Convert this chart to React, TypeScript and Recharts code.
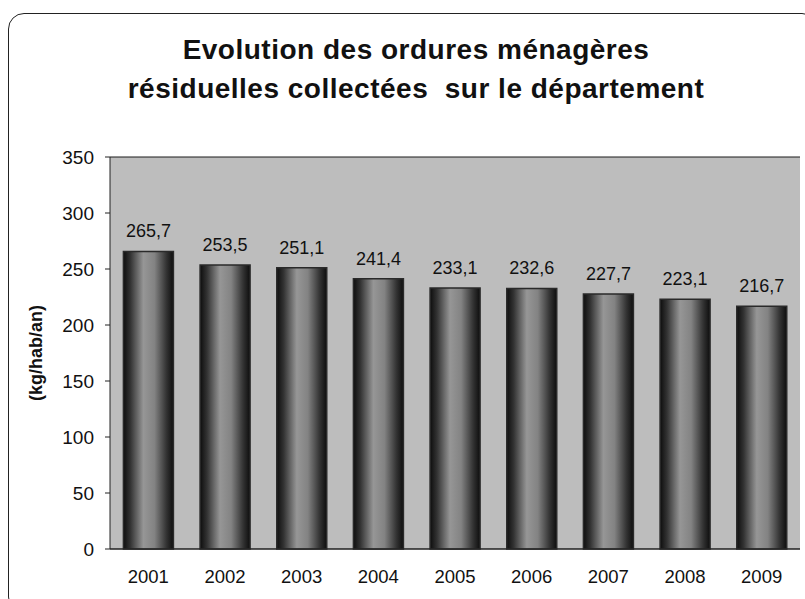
import React from 'react';
import { BarChart, Bar, XAxis, YAxis, CartesianGrid, LabelList } from 'recharts';

const years = ['2001', '2002', '2003', '2004', '2005', '2006', '2007', '2008', '2009'];
const tonnages = [265.7, 253.5, 251.1, 241.4, 233.1, 232.6, 227.7, 223.1, 216.7];
const yTicks = [0, 50, 100, 150, 200, 250, 300, 350];

const data = years.map((year, i) => ({ year, value: tonnages[i] }));

const font = '"Liberation Sans", Arial, sans-serif';

const fmt = (v: number) => v.toFixed(1).replace('.', ',');

export default function App() {
    return (
        <div style={{ position: 'absolute', left: 0, top: 0, width: 805, height: 599, background: '#fff', overflow: 'hidden', fontFamily: font }}>
            {/* rounded frame of the scanned chart */}
            <div
                style={{
                    position: 'absolute',
                    left: 8,
                    top: 13,
                    width: 810,
                    height: 600,
                    border: '1.5px solid #222',
                    borderRadius: 16,
                    boxSizing: 'border-box'
                }}
            />
            <div
                style={{
                    position: 'absolute',
                    left: 0,
                    top: 30,
                    width: 832,
                    textAlign: 'center',
                    fontSize: 28,
                    fontWeight: 'bold',
                    letterSpacing: 0.5,
                    lineHeight: '39px',
                    color: '#111'
                }}
            >
                Evolution des ordures ménagères
                <br />
                résiduelles collectées&nbsp; sur le département
            </div>
            <div style={{ position: 'absolute', left: 0, top: 0 }}>
                <BarChart width={805} height={599} data={data} margin={{ top: 157, right: 5, bottom: 20, left: 0 }} barCategoryGap="17.5%">
                    <defs>
                        <linearGradient id="barGrad" x1="0" y1="0" x2="1" y2="0">
                            <stop offset="0" stopColor="#0d0d0d" />
                            <stop offset="0.14" stopColor="#333" />
                            <stop offset="0.4" stopColor="#969696" />
                            <stop offset="0.62" stopColor="#838383" />
                            <stop offset="0.86" stopColor="#333" />
                            <stop offset="1" stopColor="#0d0d0d" />
                        </linearGradient>
                    </defs>
                    <CartesianGrid vertical={false} stroke="#1a1a1a" fill="#bdbdbd" fillOpacity={1} />
                    <XAxis
                        dataKey="year"
                        axisLine={{ stroke: '#222' }}
                        tickLine={false}
                        tick={{ fill: '#111', fontSize: 18.5, fontFamily: font }}
                        tickMargin={15}
                    />
                    <YAxis
                        yAxisId="left"
                        width={110}
                        domain={[0, 350]}
                        ticks={yTicks}
                        interval={0}
                        axisLine={{ stroke: '#222' }}
                        tickLine={{ stroke: '#222' }}
                        tickSize={5}
                        tickMargin={11}
                        tick={{ fill: '#111', fontSize: 19, fontFamily: font }}
                        label={{
                            value: '(kg/hab/an)',
                            angle: -90,
                            position: 'insideLeft',
                            offset: 36,
                            style: { textAnchor: 'middle', fontSize: 18, fontWeight: 'bold', fill: '#111', fontFamily: font }
                        }}
                    />
                    <YAxis yAxisId="right" orientation="right" width={0} domain={[0, 350]} tick={false} tickLine={false} axisLine={{ stroke: '#222' }} />
                    <Bar yAxisId="left" dataKey="value" fill="url(#barGrad)" stroke="#2a2a2a" strokeWidth={1.5} isAnimationActive={false}>
                        <LabelList
                            dataKey="value"
                            position="top"
                            offset={14}
                            formatter={(v: number) => fmt(v)}
                            style={{ fill: '#111', fontSize: 18, fontFamily: font }}
                        />
                    </Bar>
                </BarChart>
            </div>
        </div>
    );
}
